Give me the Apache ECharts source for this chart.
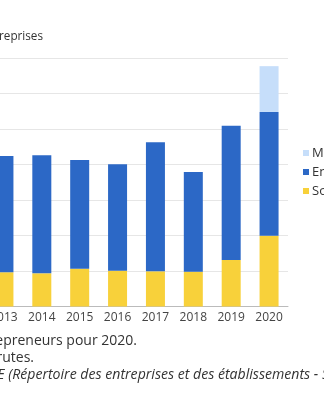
<!DOCTYPE html>
<html>
<head>
<meta charset="utf-8">
<script src="https://cdn.jsdelivr.net/npm/echarts@6/dist/echarts.min.js"></script>
<style>
html,body{margin:0;padding:0;width:324px;height:400px;overflow:hidden;background:#fff;}
#chart{position:absolute;left:-60px;top:0;width:500px;height:400px;}
</style>
</head>
<body>
<div id="chart"></div>
<script>
var years = ['2013','2014','2015','2016','2017','2018','2019','2020'];
var societes = [193, 187, 213, 202, 198, 196, 262, 399];
var entreprisesInd = [655, 665, 613, 600, 728, 562, 756, 697];
var microEntrepreneurs = [null, null, null, null, null, null, null, 258];
var seriesNames = ['Micro-entrepreneurs', 'Entreprises individuelles', 'Sociétés'];
var yTitle = "Nombre d'entreprises";
var notes = ['Y compris micro-entrepreneurs pour 2020.', 'Données brutes.'];
var sourcePrefix = 'Source : INSEE';
var sourceRest = ' (Répertoire des entreprises et des établissements - Sirene)';

var OFF = 60; // container offset (viewport is cropped)
var FONT = '"Open Sans", sans-serif';
function measure(txt, font){
  var c = document.createElement('canvas').getContext('2d');
  c.font = font; return c.measureText(txt).width;
}
var srcFont = 'italic 14.1px "Open Sans"';
var srcX = OFF + 4.5 - measure(sourcePrefix, srcFont);

var chart = echarts.init(document.getElementById('chart'), null, {renderer:'canvas'});
chart.setOption({
  animation:false,
  textStyle:{fontFamily:FONT},
  grid:{left:45, right:152, top:58, bottom:93.5, containLabel:false},
  legend:{
    orient:'vertical', left:OFF+303, top:146, padding:0,
    itemWidth:6, itemHeight:6, itemGap:5,
    icon:'rect',
    textStyle:{fontSize:13, lineHeight:14, color:'#333', fontFamily:FONT, padding:[0,0,0,-2]},
    data:seriesNames
  },
  xAxis:{
    type:'category', data:years,
    axisTick:{show:false},
    axisLine:{lineStyle:{color:'#bbb'}},
    axisLabel:{color:'#444', fontSize:12, margin:5, fontFamily:FONT}
  },
  yAxis:{
    type:'value', min:0, max:1400, interval:200,
    axisLabel:{color:'#444', fontSize:12},
    splitLine:{lineStyle:{color:'#e6e6e6'}}
  },
  series:[
    {name:seriesNames[2], type:'bar', stack:'t', data:societes, barWidth:19, itemStyle:{color:'#f8d13a'}},
    {name:seriesNames[1], type:'bar', stack:'t', data:entreprisesInd, barWidth:19, itemStyle:{color:'#2c68c6'}},
    {name:seriesNames[0], type:'bar', stack:'t', data:microEntrepreneurs, barWidth:19, itemStyle:{color:'#c6defa'}}
  ],
  graphic:[
    {type:'text', x:OFF+43, y:37, style:{text:yTitle, textAlign:'right', textVerticalAlign:'middle', font:'11.7px "Open Sans"', fill:'#333'}},
    {type:'text', x:OFF+137, y:341, style:{text:notes[0], textAlign:'right', textVerticalAlign:'middle', font:'14px "Open Sans"', fill:'#333'}},
    {type:'text', x:OFF+34, y:358, style:{text:notes[1], textAlign:'right', textVerticalAlign:'middle', font:'14px "Open Sans"', fill:'#333'}},
    {type:'text', x:srcX, y:375, style:{text:sourcePrefix + sourceRest, textAlign:'left', textVerticalAlign:'middle', font:srcFont, fill:'#333'}}
  ]
});
</script>
</body>
</html>
